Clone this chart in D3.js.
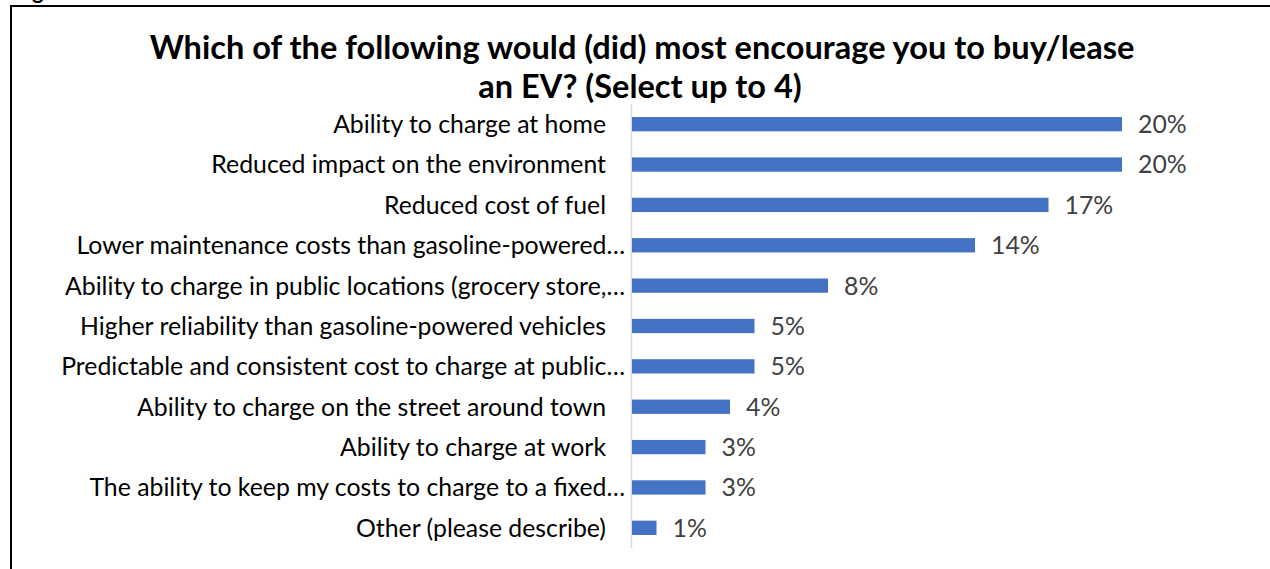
<!DOCTYPE html>
<html>
<head>
<meta charset="utf-8">
<script src="https://cdn.jsdelivr.net/npm/d3@7"></script>
<style>
  html, body { margin: 0; padding: 0; background: #fff; }
  svg { display: block; }
</style>
</head>
<body>
<svg id="chart" width="1270" height="569"></svg>
<script>
// Survey answers, top to bottom
const categories = [
  "Ability to charge at home",
  "Reduced impact on the environment",
  "Reduced cost of fuel",
  "Lower maintenance costs than gasoline-powered…",
  "Ability to charge in public locations (grocery store,…",
  "Higher reliability than gasoline-powered vehicles",
  "Predictable and consistent cost to charge at public…",
  "Ability to charge on the street around town",
  "Ability to charge at work",
  "The ability to keep my costs to charge to a fixed…",
  "Other (please describe)"
];
// Share of respondents, in percent
const values = [20, 20, 17, 14, 8, 5, 5, 4, 3, 3, 1];
const titleLines = [
  "Which of the following would (did) most encourage you to buy/lease",
  "an EV? (Select up to 4)"
];

const FONT = "Lato, 'Open Sans', sans-serif";
const svg = d3.select("#chart");

// Fit a text element to a target width by adjusting its font size
function fitWidth(sel, target) {
  const node = sel.node();
  const fs = parseFloat(sel.attr("font-size"));
  const w = node.getComputedTextLength();
  const nfs = fs * target / w;
  sel.attr("font-size", nfs);
  return nfs;
}

// Caption above the frame (runs past the top edge)
svg.append("text")
  .attr("x", 14).attr("y", -1)
  .attr("font-family", FONT).attr("font-weight", 700)
  .attr("font-size", 22).attr("fill", "#000")
  .text("Figure 5");

// Frame
svg.append("path")
  .attr("d", "M11,575 V6 H1275")
  .attr("fill", "none").attr("stroke", "#000").attr("stroke-width", 2);

// Title
const t1 = svg.append("text")
  .attr("x", 642).attr("y", 59)
  .attr("text-anchor", "middle")
  .attr("font-family", FONT).attr("font-weight", 700)
  .attr("font-size", 30).attr("fill", "#000")
  .text(titleLines[0]);
const titleSize = fitWidth(t1, 985);
svg.append("text")
  .attr("x", 640).attr("y", 98)
  .attr("text-anchor", "middle")
  .attr("font-family", FONT).attr("font-weight", 700)
  .attr("font-size", titleSize).attr("fill", "#000")
  .text(titleLines[1]);

// Scales
const x = d3.scaleLinear().domain([0, 20]).range([632, 1122]);
const y = d3.scaleBand().domain(categories).range([104, 548])
  .paddingInner(0.646).paddingOuter(0.323);

// Category axis line
svg.append("line")
  .attr("x1", x(0) - 0.5).attr("x2", x(0) - 0.5)
  .attr("y1", y.range()[0]).attr("y2", y.range()[1])
  .attr("stroke", "#D9D9D9").attr("stroke-width", 1.5);

// Bars
svg.append("g").selectAll("rect")
  .data(values)
  .join("rect")
  .attr("x", x(0))
  .attr("y", (d, i) => y(categories[i]))
  .attr("width", d => x(d) - x(0))
  .attr("height", y.bandwidth())
  .attr("fill", "#4472C4");

// Category labels
const probe = svg.append("text")
  .attr("font-family", FONT).attr("font-size", 20)
  .text(categories[0]);
const labelSize = fitWidth(probe, 273);
probe.remove();

svg.append("g").selectAll("text")
  .data(categories)
  .join("text")
  .attr("x", d => d.endsWith("…") ? 625 : 606)
  .attr("y", d => y(d) + y.bandwidth() / 2)
  .attr("dy", "0.36em")
  .attr("text-anchor", "end")
  .attr("font-family", FONT).attr("font-size", labelSize)
  .attr("fill", "#000")
  .text(d => d);

// Value labels
svg.append("g").selectAll("text")
  .data(values)
  .join("text")
  .attr("x", d => x(d) + 16)
  .attr("y", (d, i) => y(categories[i]) + y.bandwidth() / 2)
  .attr("dy", "0.36em")
  .attr("font-family", FONT).attr("font-size", labelSize)
  .attr("fill", "#404040")
  .text(d => d + "%");
</script>
</body>
</html>
